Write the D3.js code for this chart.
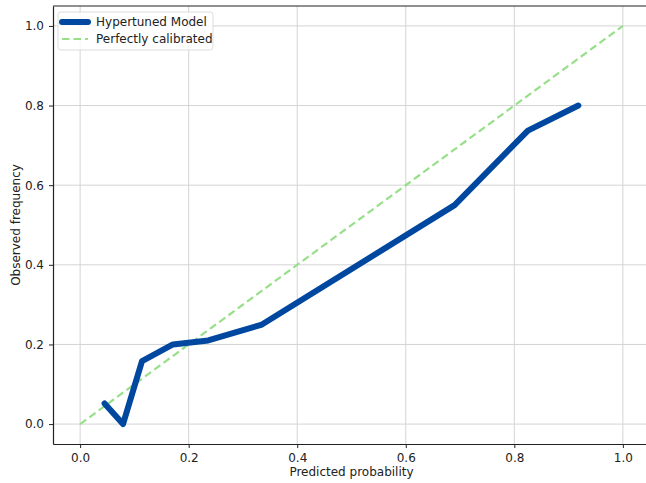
<!DOCTYPE html>
<html>
<head>
<meta charset="utf-8">
<script src="https://cdn.jsdelivr.net/npm/d3@7"></script>
<style>
  body { margin: 0; background: #fff; }
  text { font-family: "DejaVu Sans", sans-serif; fill: #222; }
</style>
</head>
<body>
<svg id="chart" width="646" height="483"></svg>
<script>
// calibration curve
var predProb = [0.045, 0.079, 0.114, 0.171, 0.236, 0.335, 0.69, 0.825, 0.918];
var obsFreq  = [0.052, 0.0,   0.158, 0.200, 0.210, 0.250, 0.55, 0.737, 0.800];
var perfect = [0, 1];
var tickVals = [0.0, 0.2, 0.4, 0.6, 0.8, 1.0];
var seriesNames = ["Hypertuned Model", "Perfectly calibrated"];

var svg = d3.select("#chart");
var margin = {top: 6, left: 53, bottom: 39};
var width = 597,
    height = 483 - margin.top - margin.bottom;

var x = d3.scaleLinear().domain([-0.05, 1.05]).range([0, width]);
var y = d3.scaleLinear().domain([-0.05, 1.05]).range([height, 0]);

var g = svg.append("g")
    .attr("transform", "translate(" + margin.left + "," + margin.top + ")");

// grid
g.selectAll(".gx").data(tickVals).enter().append("line")
    .attr("x1", function(d) { return x(d); }).attr("x2", function(d) { return x(d); })
    .attr("y1", 0).attr("y2", height)
    .style("stroke", "#d4d4d4").style("stroke-width", 1);
g.selectAll(".gy").data(tickVals).enter().append("line")
    .attr("x1", 0).attr("x2", width)
    .attr("y1", function(d) { return y(d); }).attr("y2", function(d) { return y(d); })
    .style("stroke", "#d4d4d4").style("stroke-width", 1);

var xAxis = d3.axisBottom(x).tickValues(tickVals).tickFormat(d3.format(".1f"))
        .tickSize(4).tickSizeOuter(0).tickPadding(5),
    yAxis = d3.axisLeft(y).tickValues(tickVals).tickFormat(d3.format(".1f"))
        .tickSize(4).tickSizeOuter(0).tickPadding(5);

g.append("g").attr("class", "axis")
    .attr("transform", "translate(0," + height + ")")
    .call(xAxis);
g.append("g").attr("class", "axis")
    .call(yAxis);
g.selectAll(".axis text").style("font-size", "12px").style("fill", "#222");
g.selectAll(".axis line").style("stroke", "#222");
g.selectAll(".axis path").style("stroke", "#222").style("stroke-width", 1.2);

// top and right spines
g.append("line").attr("x1", 0).attr("x2", width).attr("y1", 0).attr("y2", 0)
    .style("stroke", "#222").style("stroke-width", 1.2);
g.append("line").attr("x1", width).attr("x2", width).attr("y1", 0).attr("y2", height)
    .style("stroke", "#222").style("stroke-width", 1.2);

// perfectly calibrated
g.append("path")
    .datum(perfect)
    .attr("d", d3.line().x(function(d) { return x(d); }).y(function(d) { return y(d); }))
    .style("fill", "none").style("stroke", "#98df8a").style("stroke-width", 2.2)
    .style("stroke-dasharray", "7.5,4");

// model curve
var pts = predProb.map(function(p, i) { return [p, obsFreq[i]]; });
g.append("path")
    .datum(pts)
    .attr("d", d3.line().x(function(d) { return x(d[0]); }).y(function(d) { return y(d[1]); }))
    .style("fill", "none").style("stroke", "#0047a0").style("stroke-width", 6)
    .style("stroke-linecap", "round").style("stroke-linejoin", "round");

// axis labels
svg.append("text")
    .attr("x", margin.left + x(0.5)).attr("y", 476)
    .attr("text-anchor", "middle").style("font-size", "12px")
    .text("Predicted probability");
svg.append("text")
    .attr("transform", "translate(20," + (margin.top + y(0.5)) + ") rotate(-90)")
    .attr("text-anchor", "middle").style("font-size", "12px")
    .text("Observed frequency");

// legend
var leg = svg.append("g").attr("transform", "translate(58,12)");
leg.append("rect").attr("width", 155).attr("height", 38).attr("rx", 3)
    .style("fill", "#fff").style("fill-opacity", 0.8)
    .style("stroke", "#ddd").style("stroke-width", 1);
leg.append("line").attr("x1", 4).attr("x2", 30).attr("y1", 10).attr("y2", 10)
    .style("stroke", "#0047a0").style("stroke-width", 6).style("stroke-linecap", "round");
leg.append("line").attr("x1", 4).attr("x2", 30).attr("y1", 27).attr("y2", 27)
    .style("stroke", "#98df8a").style("stroke-width", 2.2).style("stroke-dasharray", "7.5,4");
leg.selectAll("text.lab").data(seriesNames).enter().append("text")
    .attr("class", "lab")
    .attr("x", 38).attr("y", function(d, i) { return 14 + i * 17; })
    .style("font-size", "12px")
    .text(function(d) { return d; });
</script>
</body>
</html>
